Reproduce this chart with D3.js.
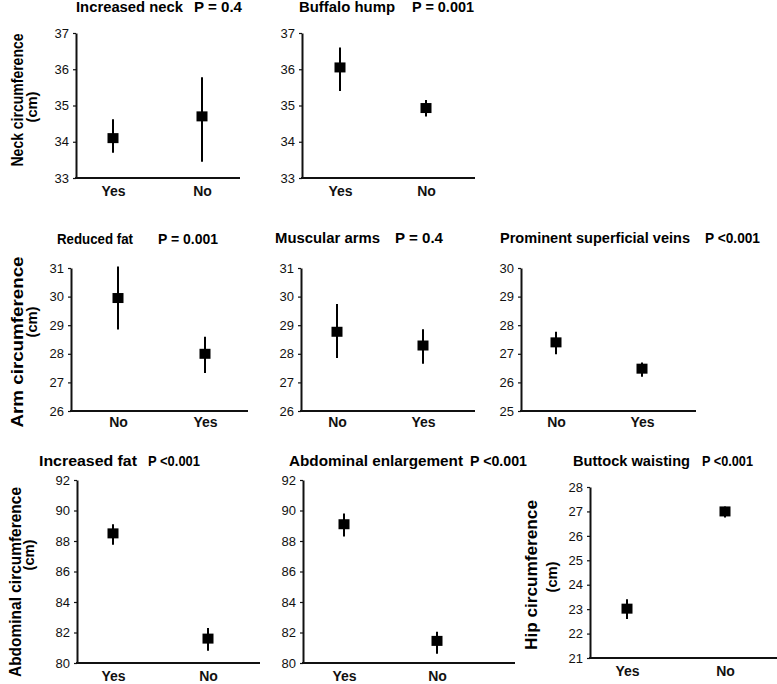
<!DOCTYPE html>
<html>
<head>
<meta charset="utf-8">
<script src="https://cdn.jsdelivr.net/npm/d3@7"></script>
<style>
  html, body { margin: 0; padding: 0; background: #fff; }
  svg { display: block; }
</style>
</head>
<body>
<svg id="chart" width="777" height="684"></svg>
<script>
// ---------------- DATA ----------------
const titles = ["Increased neck", "Buffalo hump", "Reduced fat", "Muscular arms",
  "Prominent superficial veins", "Increased fat", "Abdominal enlargement", "Buttock waisting"];
const pValues = ["P = 0.4", "P = 0.001", "P = 0.001", "P = 0.4",
  "P <0.001", "P <0.001", "P <0.001", "P <0.001"];
const categories = [["Yes", "No"], ["Yes", "No"], ["No", "Yes"], ["No", "Yes"],
  ["No", "Yes"], ["Yes", "No"], ["Yes", "No"], ["Yes", "No"]];
const means = [[34.1, 34.7], [36.05, 34.93], [29.95, 28.0], [28.77, 28.29],
  [27.4, 26.48], [88.5, 81.6], [89.1, 81.45], [23.02, 27.0]];
const lowerCI = [[33.7, 33.45], [35.4, 34.7], [28.85, 27.33], [27.85, 27.65],
  [26.98, 26.2], [87.75, 80.8], [88.3, 80.6], [22.6, 26.75]];
const upperCI = [[34.62, 35.78], [36.6, 35.15], [31.05, 28.6], [29.74, 28.86],
  [27.77, 26.7], [89.1, 82.3], [89.8, 82.05], [23.4, 27.2]];
const yDomains = [[33, 37], [33, 37], [26, 31], [26, 31], [25, 30], [80, 92], [80, 92], [21, 28]];
const yTickValues = [
  [33, 34, 35, 36, 37], [33, 34, 35, 36, 37],
  [26, 27, 28, 29, 30, 31], [26, 27, 28, 29, 30, 31], [25, 26, 27, 28, 29, 30],
  [80, 82, 84, 86, 88, 90, 92], [80, 82, 84, 86, 88, 90, 92],
  [21, 22, 23, 24, 25, 26, 27, 28]];
const yAxisTitles = [
  ["Neck circumference", "(cm)"],
  ["Arm  circumference", "(cm)"],
  ["Abdominal  circumference", "(cm)"],
  ["Hip circumference", "(cm)"]];

// ---------------- LAYOUT ----------------
const frames = [
  { l: 76,  r: 240, t: 33,  b: 178, cr: [68.5, 246.5], pad: 8 },
  { l: 302, r: 475, t: 33,  b: 178, cr: [297, 469],    pad: 8 },
  { l: 71,  r: 248, t: 268, b: 411, cr: [74.5, 248.5], pad: 6 },
  { l: 301, r: 475, t: 268, b: 411, cr: [294, 466],    pad: 6 },
  { l: 521, r: 696, t: 268, b: 411, cr: [513, 685],    pad: 6 },
  { l: 77,  r: 260, t: 480, b: 663, cr: [65.5, 255.5], pad: 8 },
  { l: 303, r: 515, t: 480, b: 663, cr: [297.5, 483.5], pad: 8 },
  { l: 590, r: 777, t: 487, b: 658, cr: [578, 774],    pad: 8 }
];
// title layout: name x, p x, baseline, name width, p width
const titleLayout = [
  [76, 194, 12, 107, 48], [299, 412, 12, 96, 62],
  [57, 158, 244, 76, 60], [275, 395, 243, 105, 48], [500, 705, 243, 190, 55],
  [39, 148, 466, 98, 52], [289, 470, 466, 174, 57], [573, 702, 466, 117, 51]
];
// y-axis title layout: [centerY, baselineX, length] for line1, [centerY, baselineX] line2
const yTitleLayout = [
  [[100, 23, 133], [107, 37]],
  [[342, 23, 171], [322, 37]],
  [[582, 21, 190], [555, 34]],
  [[575, 537, 150], [577, 557]]
];

const svg = d3.select("#chart");
const font = "'Liberation Sans', Arial, sans-serif";

frames.forEach((f, i) => {
  const g = svg.append("g");
  const y = d3.scaleLinear().domain(yDomains[i]).range([f.b, f.t]);
  const x = d3.scalePoint().domain(categories[i]).range(f.cr).padding(0.5);

  const ya = g.append("g")
    .attr("transform", `translate(${f.l},0)`)
    .call(d3.axisLeft(y).tickValues(yTickValues[i]).tickFormat(d3.format("d"))
      .tickSize(3).tickPadding(4).tickSizeOuter(0));
  ya.select(".domain").attr("stroke", "#111").attr("stroke-width", 2);
  ya.selectAll(".tick line").attr("stroke", "#111").attr("stroke-width", 1.2);
  ya.selectAll(".tick text").attr("font-family", font).attr("font-size", 13)
    .attr("fill", "#111");

  const xa = g.append("g")
    .attr("transform", `translate(0,${f.b})`)
    .call(d3.axisBottom(x).tickSize(0).tickPadding(f.pad));
  xa.select(".domain").remove();
  xa.selectAll(".tick text").attr("font-family", font).attr("font-size", 14)
    .attr("font-weight", "bold").attr("fill", "#111");
  g.append("line")
    .attr("x1", f.l - 1).attr("x2", f.r)
    .attr("y1", f.b).attr("y2", f.b)
    .attr("stroke", "#111").attr("stroke-width", 2);

  const pts = categories[i].map((c, k) => ({ c, m: means[i][k], lo: lowerCI[i][k], hi: upperCI[i][k] }));
  g.selectAll(".err").data(pts).enter().append("line")
    .attr("x1", d => x(d.c)).attr("x2", d => x(d.c))
    .attr("y1", d => y(d.lo)).attr("y2", d => y(d.hi))
    .attr("stroke", "#000").attr("stroke-width", 2);
  g.selectAll(".pt").data(pts).enter().append("rect")
    .attr("x", d => x(d.c) - 5.5).attr("y", d => y(d.m) - 5)
    .attr("width", 11).attr("height", 10)
    .attr("fill", "#000");

  const tl = titleLayout[i];
  g.append("text").attr("x", tl[0]).attr("y", tl[2])
    .attr("font-family", font).attr("font-weight", "bold").attr("font-size", 14.5)
    .attr("textLength", tl[3]).attr("lengthAdjust", "spacingAndGlyphs")
    .attr("fill", "#000").text(titles[i]);
  g.append("text").attr("x", tl[1]).attr("y", tl[2])
    .attr("font-family", font).attr("font-weight", "bold").attr("font-size", 14.5)
    .attr("textLength", tl[4]).attr("lengthAdjust", "spacingAndGlyphs")
    .attr("fill", "#000").text(pValues[i]);
});

yAxisTitles.forEach((lines, j) => {
  const L = yTitleLayout[j];
  svg.append("text")
    .attr("transform", `translate(${L[0][1]},${L[0][0]}) rotate(-90)`)
    .attr("text-anchor", "middle")
    .attr("font-family", font).attr("font-weight", "bold").attr("font-size", 16.5)
    .attr("textLength", L[0][2]).attr("lengthAdjust", "spacingAndGlyphs")
    .attr("fill", "#000").text(lines[0]);
  svg.append("text")
    .attr("transform", `translate(${L[1][1]},${L[1][0]}) rotate(-90)`)
    .attr("text-anchor", "middle")
    .attr("font-family", font).attr("font-weight", "bold").attr("font-size", 15.5)
    .attr("textLength", 31).attr("lengthAdjust", "spacingAndGlyphs")
    .attr("fill", "#000").text(lines[1]);
});
</script>
</body>
</html>
